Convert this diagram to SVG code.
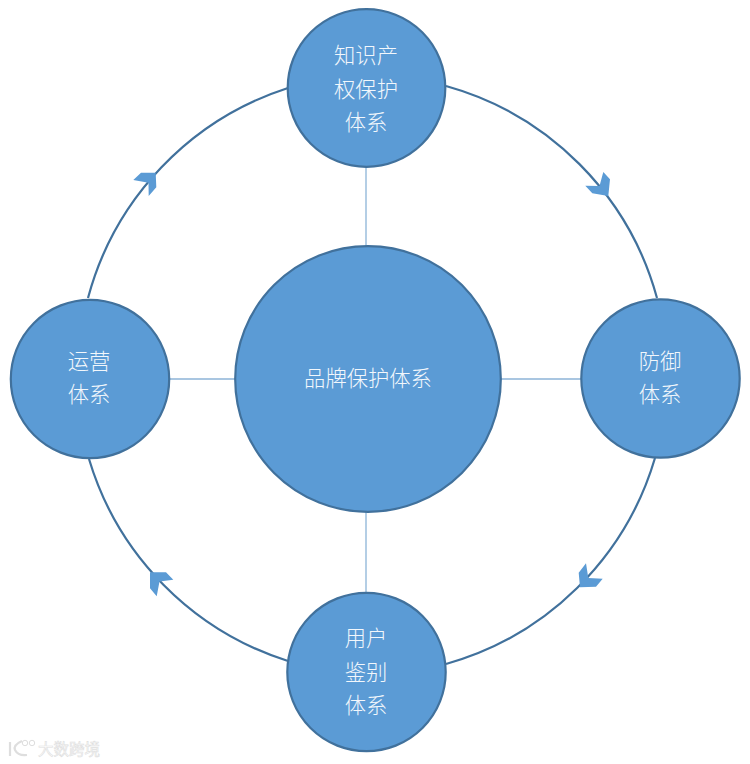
<svg xmlns="http://www.w3.org/2000/svg" width="750" height="764" viewBox="0 0 750 764">
<style>
.n{fill:#5b9bd5;stroke:#41719c;stroke-width:2.2}
.t{font-family:"Noto Sans CJK SC","Noto Sans",sans-serif;font-size:21.3px;font-weight:300;fill:#f2f7fc;text-anchor:middle}
.spoke{stroke:#8db4d8;stroke-width:1.3;fill:none}
.arc{stroke:#41719c;stroke-width:2.2;fill:none}
.head{fill:#5b9bd5}
.wm{font-family:"Noto Sans CJK SC",sans-serif;font-size:15.5px;fill:#fff;stroke:#dedede;stroke-width:.6}
.wl{fill:none;stroke:#dedede;stroke-width:2.2}
</style>
<rect width="750" height="764" fill="#fff"/>
<g id="connectors">
<path class="spoke" d="M366 166V246M366 512V594M170 379H236M500 379H582"/>
<path class="arc" d="M446 86A303 303 0 0 1 657 298"/>
<path class="arc" d="M655 458A303 303 0 0 1 446 664"/>
<path class="arc" d="M288 661A303 303 0 0 1 89 459"/>
<path class="arc" d="M88 298A303 303 0 0 1 288 88"/>
<polygon class="head" points="603.3,172 610,179.3 608.3,196 592.3,193.3 585.3,185.7 599.5,186"/>
<polygon class="head" points="155.7,172.7 156.3,187.3 148.7,196 148.5,182.8 133.3,180 141,172.7"/>
<polygon class="head" points="580,587.3 578.7,572.7 586,563.3 588.3,578 602.7,578.7 596,586.7"/>
<polygon class="head" points="150,572.3 166,572.3 173.3,579.7 159.5,581.5 156.7,596.3 150,588.3"/>
</g>
<g id="center"><circle class="n" cx="368" cy="379" r="132.8"/><text class="t" x="368" y="386">品牌保护体系</text></g>
<g id="top"><circle class="n" cx="366.5" cy="88" r="78.8"/><text class="t" x="366" y="63">知识产</text><text class="t" x="366" y="97">权保护</text><text class="t" x="366" y="130">体系</text></g>
<g id="right"><circle class="n" cx="660.5" cy="378.5" r="79.2"/><text class="t" x="660" y="369">防御</text><text class="t" x="660" y="402">体系</text></g>
<g id="left"><circle class="n" cx="90" cy="379" r="79.2"/><text class="t" x="89" y="369">运营</text><text class="t" x="89" y="402">体系</text></g>
<g id="bottom"><circle class="n" cx="366.5" cy="672" r="79.2"/><text class="t" x="366" y="646">用户</text><text class="t" x="366" y="680">鉴别</text><text class="t" x="366" y="713">体系</text></g>
<g id="watermark">
<path class="wl" d="M10 742V756M22 741Q13 745 15 750Q18 756 27 755"/>
<circle cx="25" cy="743" r="2.7" fill="none" stroke="#dedede" stroke-width="1"/><circle cx="32" cy="743" r="2.7" fill="none" stroke="#dedede" stroke-width="1"/>
<text class="wm" x="38" y="755">大数跨境</text>
</g>
</svg>
